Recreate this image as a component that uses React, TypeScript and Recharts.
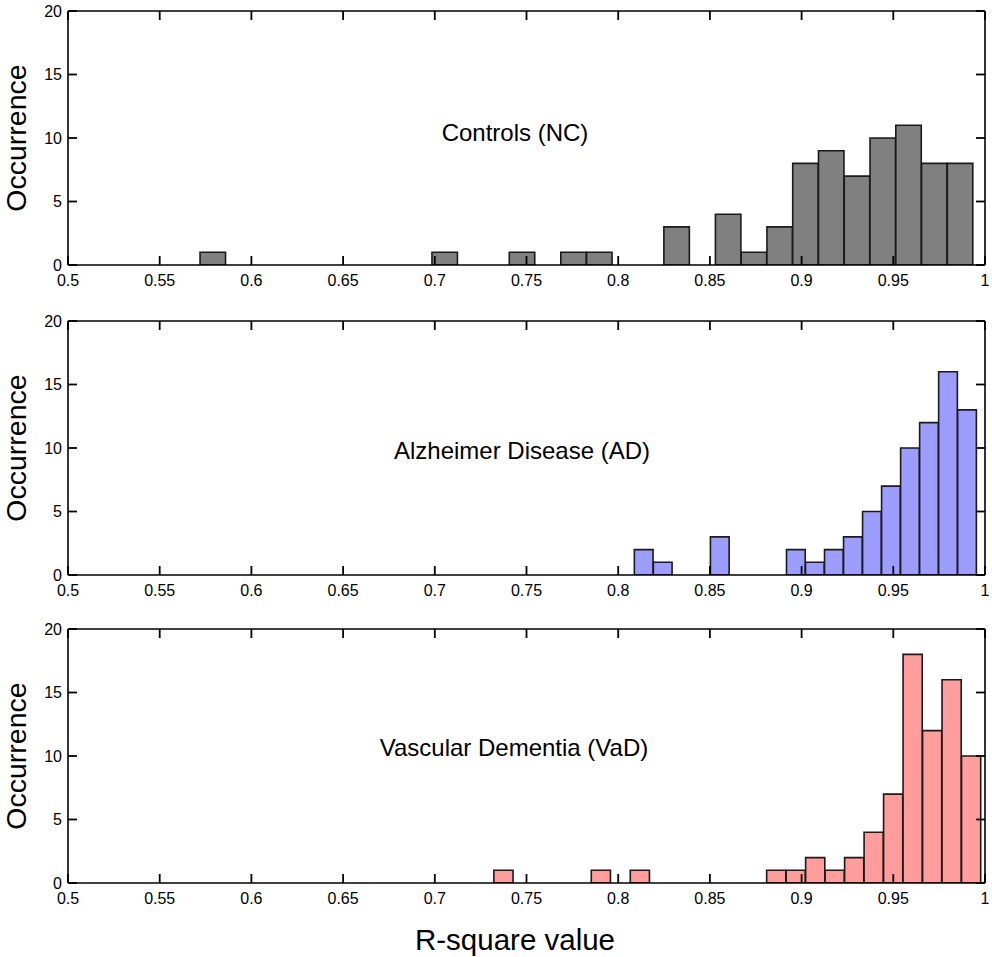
import React from 'react';
import { ComposedChart, Bar, XAxis, YAxis, Label } from 'recharts';

// ---- data ----
const X_TICKS = [0.5, 0.55, 0.6, 0.65, 0.7, 0.75, 0.8, 0.85, 0.9, 0.95, 1];
const Y_TICKS = [0, 5, 10, 15, 20];

// Controls (NC): bin centres and counts (non-empty bins)
const NC_BIN_WIDTH = 0.01405;
const NC_CENTERS = [0.57903, 0.70548, 0.74763, 0.77573, 0.78978, 0.83193, 0.86003, 0.87408, 0.88813, 0.90218, 0.91623, 0.93028, 0.94433, 0.95838, 0.97243, 0.98648];
const NC_COUNTS = [1, 1, 1, 1, 1, 3, 4, 1, 3, 8, 9, 7, 10, 11, 8, 8];

// Alzheimer Disease (AD)
const AD_BIN_WIDTH = 0.01037;
const AD_CENTERS = [0.81399, 0.82436, 0.85547, 0.89695, 0.90732, 0.91769, 0.92806, 0.93843, 0.9488, 0.95917, 0.96954, 0.97991, 0.99028];
const AD_COUNTS = [2, 1, 3, 2, 1, 2, 3, 5, 7, 10, 12, 16, 13];

// Vascular Dementia (VaD)
const VAD_BIN_WIDTH = 0.010625;
const VAD_CENTERS = [0.73751, 0.79064, 0.81189, 0.88626, 0.89688, 0.90751, 0.91813, 0.92876, 0.93938, 0.95001, 0.96063, 0.97126, 0.98188, 0.99251];
const VAD_COUNTS = [1, 1, 1, 1, 1, 2, 1, 2, 4, 7, 18, 12, 16, 10];

// ---- layout ----
const FONT = '"Liberation Sans", Arial, Helvetica, sans-serif';
const CHART_W = 992;
const CHART_H = 309;
const Y_AXIS_W = 68;
const MARGIN = { top: 10, right: 6, bottom: 14, left: 0 };
const X_AXIS_H = 30;
const EDGE_AXIS = 1; // thickness reserved for top / right frame axes
const PLOT_W = CHART_W - MARGIN.left - MARGIN.right - Y_AXIS_W - EDGE_AXIS;
const PLOT_H = CHART_H - MARGIN.top - MARGIN.bottom - X_AXIS_H - EDGE_AXIS;
const X_DOMAIN: [number, number] = [0.5, 1];
const TICK_LEN = 9;
const TICK_W = 1.8;
const X_TICK_GAP = 9.5;
const Y_TICK_GAP = 6;
const TICK_FONT = 16;
const INK = '#000';

const axisLine = { stroke: INK, strokeWidth: 1.6 };

// bottom-axis tick: label below, inward tick marks on bottom and top frame
function XTick(props: any) {
  const { x, y, payload } = props;
  const base = y - X_TICK_GAP;
  const topY = base - PLOT_H;
  return (
    <g>
      <line x1={x} x2={x} y1={base} y2={base - TICK_LEN} stroke={INK} strokeWidth={TICK_W} />
      <line x1={x} x2={x} y1={topY} y2={topY + TICK_LEN} stroke={INK} strokeWidth={TICK_W} />
      <text x={x} y={y} dy="0.71em" textAnchor="middle" fill={INK} fontSize={TICK_FONT} fontFamily={FONT}>
        {String(payload.value)}
      </text>
    </g>
  );
}

// left-axis tick: label at left, inward tick marks on left and right frame
function YTick(props: any) {
  const { x, y, payload } = props;
  const left = x + Y_TICK_GAP;
  const right = left + PLOT_W;
  return (
    <g>
      <line x1={left} x2={left + TICK_LEN} y1={y} y2={y} stroke={INK} strokeWidth={TICK_W} />
      <line x1={right - TICK_LEN} x2={right} y1={y} y2={y} stroke={INK} strokeWidth={TICK_W} />
      <text x={x} y={y} dy="0.355em" textAnchor="end" fill={INK} fontSize={TICK_FONT} fontFamily={FONT}>
        {String(payload.value)}
      </text>
    </g>
  );
}

type PanelProps = {
  centers: number[];
  counts: number[];
  binWidth: number;
  fill: string;
  top: number;
  title: string;
  titleX: number;
  titleY: number;
};

function Panel({ centers, counts, binWidth, fill, top, title, titleX, titleY }: PanelProps) {
  const data = centers.map((x, i) => ({ x, count: counts[i] }));
  const pxPerUnit = PLOT_W / (X_DOMAIN[1] - X_DOMAIN[0]);
  let minGap = binWidth;
  for (let i = 1; i < centers.length; i++) minGap = Math.min(minGap, centers[i] - centers[i - 1]);
  const barSize = minGap * pxPerUnit - 0.3;
  return (
    <>
      <div style={{ position: 'absolute', left: 0, top, width: CHART_W, height: CHART_H }}>
        <ComposedChart width={CHART_W} height={CHART_H} data={data} margin={MARGIN}>
          <XAxis
            dataKey="x"
            type="number"
            domain={X_DOMAIN}
            ticks={X_TICKS}
            interval={0}
            allowDataOverflow
            height={X_AXIS_H}
            tick={<XTick />}
            tickSize={0}
            tickMargin={X_TICK_GAP}
            tickLine={false}
            axisLine={axisLine}
          />
          <XAxis
            xAxisId="top"
            dataKey="x"
            orientation="top"
            type="number"
            domain={X_DOMAIN}
            ticks={X_TICKS}
            allowDataOverflow
            height={EDGE_AXIS}
            tick={false}
            tickLine={false}
            axisLine={axisLine}
          />
          <YAxis
            type="number"
            domain={[0, 20]}
            ticks={Y_TICKS}
            interval={0}
            allowDataOverflow
            width={Y_AXIS_W}
            tick={<YTick />}
            tickSize={0}
            tickMargin={Y_TICK_GAP}
            tickLine={false}
            axisLine={axisLine}
          >
            <Label
              value="Occurrence"
              angle={-90}
              position="center"
              dx={-18}
              style={{ fontSize: 28.5, fill: INK, fontFamily: FONT }}
            />
          </YAxis>
          <YAxis
            yAxisId="right"
            orientation="right"
            type="number"
            domain={[0, 20]}
            ticks={Y_TICKS}
            allowDataOverflow
            width={EDGE_AXIS}
            tick={false}
            tickLine={false}
            axisLine={axisLine}
          />
          <Bar
            dataKey="count"
            fill={fill}
            stroke="#1a1a1a"
            strokeWidth={1.6}
            barSize={barSize}
            isAnimationActive={false}
          />
        </ComposedChart>
      </div>
      <div
        style={{
          position: 'absolute',
          left: titleX,
          top: titleY,
          transform: 'translate(-50%, -50%)',
          fontFamily: FONT,
          fontSize: 24,
          lineHeight: 1,
          whiteSpace: 'nowrap',
          color: INK,
        }}
      >
        {title}
      </div>
    </>
  );
}

export default function App() {
  return (
    <div
      style={{
        position: 'absolute',
        left: 0,
        top: 0,
        width: 992,
        height: 957,
        background: '#fff',
        overflow: 'hidden',
      }}
    >
      <Panel centers={NC_CENTERS} counts={NC_COUNTS} binWidth={NC_BIN_WIDTH} fill="#808080" top={0} title="Controls (NC)" titleX={515} titleY={133} />
      <Panel centers={AD_CENTERS} counts={AD_COUNTS} binWidth={AD_BIN_WIDTH} fill="#9d9dff" top={310} title="Alzheimer Disease (AD)" titleX={522} titleY={451} />
      <Panel centers={VAD_CENTERS} counts={VAD_COUNTS} binWidth={VAD_BIN_WIDTH} fill="#ff9d9d" top={618} title="Vascular Dementia (VaD)" titleX={514} titleY={748} />
      <div
        style={{
          position: 'absolute',
          left: 515,
          top: 940,
          transform: 'translate(-50%, -50%)',
          fontFamily: FONT,
          fontSize: 29.5,
          lineHeight: 1,
          whiteSpace: 'nowrap',
          color: INK,
        }}
      >
        R-square value
      </div>
    </div>
  );
}
